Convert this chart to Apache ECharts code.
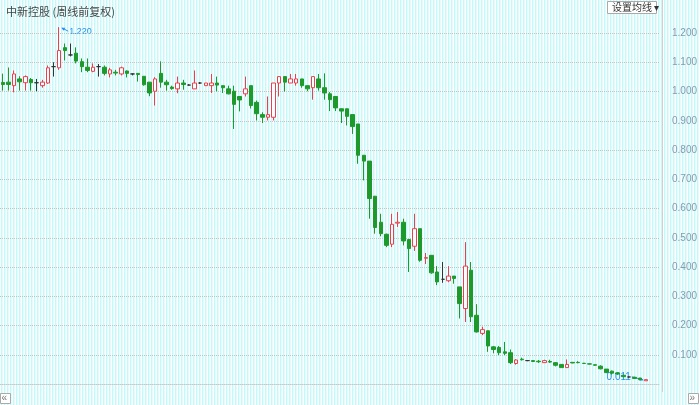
<!DOCTYPE html>
<html>
<head>
<meta charset="utf-8">
<script src="https://cdn.jsdelivr.net/npm/echarts@6/dist/echarts.min.js"></script>
<style>
html,body{margin:0;padding:0;width:700px;height:405px;overflow:hidden;
background:repeating-linear-gradient(90deg,#ffffff 0px,#ffffff 1px,#c4f9fa 1px,#c4f9fa 2px,#e4fcfd 2px,#e4fcfd 3px);}
#c{width:700px;height:405px;}
</style>
</head>
<body>
<div id="c"></div>
<script>
const titleText = '中新控股 (周线前复权)';
const buttonText = '设置均线 ▾';
const opens  = [1.031,1.032,1.020,1.043,1.030,1.041,1.030,1.020,1.029,1.085,1.081,1.150,1.125,1.131,1.102,1.083,1.069,1.085,1.083,1.060,1.066,1.060,1.070,1.060,1.062,1.052,1.032,1.001,1.062,1.032,1.015,1.009,1.029,1.022,1.009,1.029,1.020,1.020,1.029,1.020,1.009,1.001,0.983,0.992,1.020,0.963,0.921,0.912,0.912,1.029,1.051,1.029,1.029,1.043,1.020,1.013,1.043,1.013,0.992,0.983,0.941,0.941,0.921,0.889,0.782,0.762,0.642,0.553,0.512,0.478,0.550,0.553,0.494,0.471,0.531,0.430,0.440,0.383,0.358,0.353,0.369,0.332,0.258,0.389,0.235,0.173,0.182,0.127,0.125,0.110,0.107,0.070,0.085,0.080,0.080,0.078,0.073,0.077,0.073,0.067,0.056,0.074,0.074,0.071,0.069,0.066,0.061,0.051,0.044,0.038,0.030,0.024,0.023,0.020,0.011];
const closes = [1.024,1.024,1.060,1.033,1.051,1.030,1.030,1.032,1.081,1.085,1.140,1.140,1.125,1.104,1.085,1.072,1.083,1.085,1.062,1.074,1.063,1.081,1.062,1.060,1.058,1.023,0.995,1.043,1.032,1.023,1.010,1.029,1.024,1.022,1.029,1.029,1.029,1.029,1.022,1.013,0.992,0.956,0.971,1.009,0.952,0.924,0.912,0.921,1.029,1.051,1.032,1.043,1.043,1.020,1.009,1.051,1.013,0.995,0.972,0.944,0.933,0.915,0.880,0.782,0.762,0.634,0.535,0.514,0.474,0.546,0.553,0.489,0.463,0.531,0.423,0.432,0.380,0.349,0.358,0.369,0.361,0.275,0.403,0.230,0.178,0.186,0.130,0.118,0.107,0.105,0.073,0.082,0.083,0.080,0.077,0.076,0.080,0.075,0.064,0.056,0.067,0.072,0.073,0.070,0.068,0.064,0.052,0.039,0.037,0.034,0.025,0.024,0.019,0.015,0.015];
const lows   = [1.003,1.003,0.997,1.003,1.003,1.003,1.001,1.013,1.026,1.051,1.074,1.106,1.120,1.096,1.066,1.066,1.066,1.051,1.055,1.048,1.055,1.055,1.048,1.055,1.034,1.020,0.984,0.952,1.013,1.003,1.006,0.994,1.006,1.020,1.009,1.026,1.020,0.995,1.001,0.995,0.990,0.872,0.932,0.983,0.942,0.901,0.892,0.901,0.901,0.983,1.000,1.029,1.020,1.013,1.001,0.972,1.003,0.972,0.933,0.933,0.892,0.884,0.855,0.753,0.696,0.565,0.514,0.505,0.468,0.468,0.537,0.474,0.383,0.455,0.418,0.410,0.377,0.338,0.346,0.348,0.343,0.224,0.212,0.212,0.176,0.167,0.110,0.105,0.099,0.099,0.068,0.066,0.080,0.078,0.076,0.072,0.072,0.072,0.060,0.055,0.055,0.071,0.071,0.069,0.067,0.063,0.050,0.037,0.032,0.031,0.024,0.022,0.018,0.014,0.011];
const highs  = [1.061,1.082,1.072,1.052,1.055,1.046,1.043,1.040,1.089,1.100,1.220,1.164,1.164,1.151,1.113,1.113,1.096,1.094,1.089,1.081,1.074,1.085,1.072,1.062,1.062,1.052,1.032,1.049,1.103,1.040,1.020,1.051,1.040,1.025,1.072,1.032,1.029,1.060,1.051,1.020,1.020,1.020,0.983,1.051,1.020,0.969,0.929,0.983,1.029,1.051,1.051,1.060,1.060,1.043,1.020,1.051,1.060,1.062,0.998,0.983,0.941,0.941,0.921,0.889,0.782,0.762,0.642,0.582,0.514,0.582,0.588,0.565,0.494,0.582,0.531,0.448,0.440,0.403,0.417,0.403,0.369,0.332,0.485,0.417,0.273,0.196,0.182,0.130,0.130,0.144,0.118,0.085,0.090,0.082,0.081,0.082,0.083,0.083,0.075,0.068,0.084,0.075,0.078,0.072,0.070,0.067,0.064,0.051,0.046,0.040,0.031,0.025,0.025,0.021,0.016];

const weeks = opens.map((_, i) => 'W' + (i + 1));
const kData = opens.map((o, i) => [o, closes[i], lows[i], highs[i]]);
let maxI = 0, minI = 0;
highs.forEach((h, i) => { if (h > highs[maxI]) maxI = i; });
lows.forEach((l, i) => { if (l < lows[minI]) minI = i; });

const chart = echarts.init(document.getElementById('c'), null, {renderer: 'canvas'});
const baseGraphics = [
  {type: 'line', shape: {x1: 662.5, y1: 0, x2: 662.5, y2: 392}, style: {stroke: '#d0d0d0', lineWidth: 1}},
  {type: 'rect', shape: {x: 607.5, y: 1.5, width: 49, height: 12}, style: {fill: '#fff', stroke: '#aaaaaa', lineWidth: 1}},
  {type: 'text', x: 612, y: 2.5, style: {text: buttonText, fontSize: 10, fill: '#333', fontFamily: 'Noto Sans CJK SC'}},
  {type: 'rect', shape: {x: 0.5, y: 393.5, width: 10, height: 10}, style: {fill: '#fff', stroke: '#aaaaaa', lineWidth: 1}},
  {type: 'text', x: 1.5, y: 393, style: {text: '«', fontSize: 10, fill: '#777'}},
  {type: 'rect', shape: {x: 688.5, y: 393.5, width: 10, height: 10}, style: {fill: '#fff', stroke: '#aaaaaa', lineWidth: 1}},
  {type: 'text', x: 689.5, y: 393, style: {text: '»', fontSize: 10, fill: '#777'}}
];
chart.setOption({
  backgroundColor: 'transparent',
  animation: false,
  title: {
    text: titleText, left: 1, top: 1,
    textStyle: {fontSize: 11, fontWeight: 'normal', color: '#444', fontFamily: 'Noto Sans CJK SC'}
  },
  grid: {left: 0, right: 37, top: 33, bottom: 21},
  xAxis: {
    type: 'category', data: weeks, boundaryGap: true, max: weeks.length + 1,
    offset: 8,
    axisLine: {show: true, lineStyle: {color: '#c8c8c8', type: 'dotted'}},
    axisTick: {show: false}, axisLabel: {show: false}, splitLine: {show: false}
  },
  yAxis: {
    type: 'value', position: 'right', min: 0, max: 1.2, interval: 0.1,
    axisLine: {show: false}, axisTick: {show: false},
    axisLabel: {
      margin: 12, fontSize: 10, color: '#8a98ae', fontFamily: 'Liberation Sans',
      formatter: v => (v === 0 ? '' : v.toFixed(3))
    },
    splitLine: {show: true, showMinLine: false, lineStyle: {color: '#c4c4c4', type: 'dotted'}}
  },
  series: [{
    type: 'candlestick',
    data: kData,
    barWidth: 4,
    clip: false,
    itemStyle: {
      color: '#ffffff', color0: '#1e9a2c',
      borderColor: '#e8404e', borderColor0: '#1e9a2c',
      borderColorDoji: '#333333', borderWidth: 1
    }
  }],
  graphic: baseGraphics
});

// annotations placed through the library's own scales
const pMax = chart.convertToPixel({seriesIndex: 0}, [maxI, highs[maxI]]);
const pMin = chart.convertToPixel({seriesIndex: 0}, [minI, lows[minI]]);
const blue = '#2a8ff0';
chart.setOption({
  graphic: baseGraphics.concat([
    {type: 'line', shape: {x1: pMax[0] + 3, y1: pMax[1] + 1, x2: pMax[0] + 9, y2: pMax[1] + 4}, style: {stroke: blue, lineWidth: 1}},
    {type: 'polygon', shape: {points: [[pMax[0] + 2, pMax[1] + 0.5], [pMax[0] + 6, pMax[1] + 0.5], [pMax[0] + 4.5, pMax[1] + 3.5]]}, style: {fill: blue}},
    {type: 'text', x: pMax[0] + 10, y: pMax[1] + 4, style: {text: highs[maxI].toFixed(3), fontSize: 9, fill: blue, fontFamily: 'Liberation Sans', verticalAlign: 'middle'}},
    {type: 'text', x: pMin[0] - 15, y: pMin[1] - 4, style: {text: lows[minI].toFixed(3), fontSize: 10, fill: blue, fontFamily: 'Liberation Sans', align: 'right', verticalAlign: 'middle'}},
    {type: 'line', shape: {x1: pMin[0] - 14, y1: pMin[1] - 4, x2: pMin[0] - 3, y2: pMin[1] - 1}, style: {stroke: blue, lineWidth: 1}},
    {type: 'polygon', shape: {points: [[pMin[0] - 2, pMin[1] - 0.5], [pMin[0] - 6, pMin[1] - 3.5], [pMin[0] - 6.5, pMin[1]]]}, style: {fill: blue}}
  ])
});
</script>
</body>
</html>
